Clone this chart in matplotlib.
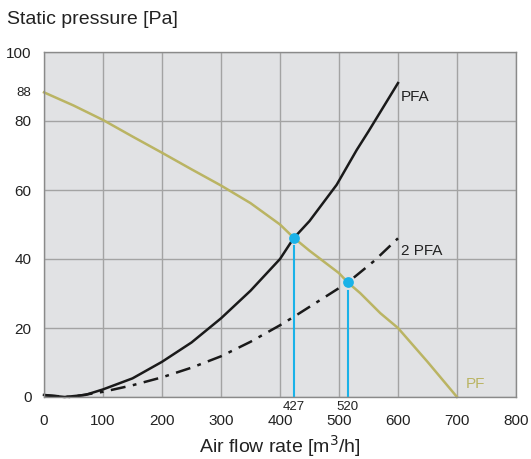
import matplotlib
matplotlib.use("Agg")
import matplotlib.pyplot as plt

plt.rcParams['font.family'] = ['Liberation Sans', 'DejaVu Sans']

pf_x = [0, 50, 100, 150, 200, 250, 300, 350, 400, 423, 450, 500, 515, 536, 570, 600, 650, 700]
pf_y = [88.3, 84.5, 80.3, 75.5, 70.8, 66, 61.3, 56.2, 50, 46.2, 42.4, 35.9, 33.2, 30.1, 24.3, 20, 10.2, 0]

pfa_x = [0, 35, 70, 100, 150, 200, 250, 300, 350, 400, 423, 450, 496, 530, 550, 600]
pfa_y = [0.6, 0, 0.6, 2.2, 5.4, 10.2, 15.8, 22.8, 30.8, 40, 46, 51, 61.5, 71.6, 77, 91]

pfa2_x = [0, 45, 100, 150, 200, 250, 300, 350, 400, 423, 470, 515, 560, 600]
pfa2_y = [0.5, 0, 1.5, 3.4, 5.7, 8.5, 11.8, 16, 20.8, 23.2, 28.3, 33.2, 39.5, 46]

op_x = [423, 515]
op_y = [46.2, 33.2]
op_labels = ["427", "520"]

x_ticks = [0, 100, 200, 300, 400, 500, 600, 700, 800]
y_ticks = [0, 20, 40, 60, 80, 100]

fig = plt.figure(figsize=(5.31, 4.59), dpi=100)
ax = fig.add_axes([44/531, 62/459, 472/531, 345/459])
ax.set_facecolor('#e1e2e4')
ax.set_xlim(0, 800)
ax.set_ylim(0, 100)
ax.set_xticks(x_ticks)
ax.set_yticks(y_ticks)
ax.grid(True, color='#a3a3a3', linewidth=1.0)
ax.set_axisbelow(True)
for s in ax.spines.values():
    s.set_color('#8a8a8a')
    s.set_linewidth(1.0)
ax.tick_params(length=0, labelsize=11, colors='#222222')
ax.tick_params(axis='x', pad=12)
ax.tick_params(axis='y', pad=9)
ax.set_xticklabels([str(v) for v in x_ticks])
ax.set_yticklabels([str(v) for v in y_ticks])

pf_color = '#bab463'
cyan = '#1ab2e8'

ax.plot(pf_x, pf_y, color=pf_color, lw=1.8, clip_on=False)
ax.plot(pfa_x, pfa_y, color='#1a1a1a', lw=1.8, clip_on=False)
ax.plot(pfa2_x, pfa2_y, color='#1a1a1a', lw=1.8, linestyle=(0, (6, 3, 1.5, 3)), clip_on=False)

for xv, yv in zip(op_x, op_y):
    ax.plot([xv, xv], [0, yv - 2.5], color=cyan, lw=1.5)
ax.scatter(op_x, op_y, s=45, color=cyan, zorder=5)

ax.text(605, 87, "PFA", fontsize=11, color='#222222', va='center')
ax.text(605, 42.3, "2 PFA", fontsize=11, color='#222222', va='center')
ax.text(714, 3.8, "PF", fontsize=11, color=pf_color, va='center')

for xv, lab in zip(op_x, op_labels):
    ax.text(xv, -1.2, lab, fontsize=9.5, color='#222222', ha='center', va='top')
ax.text(-21.5, 88, "88", fontsize=9.5, color='#222222', ha='right', va='center')

ax.set_xlabel("Air flow rate [m$^3$/h]", fontsize=14, color='#222222', labelpad=4)
fig.text(7/531, 1 - 20/459, "Static pressure [Pa]", fontsize=14, color='#222222', va='center', ha='left')

fig.savefig("out.png", dpi=100)
